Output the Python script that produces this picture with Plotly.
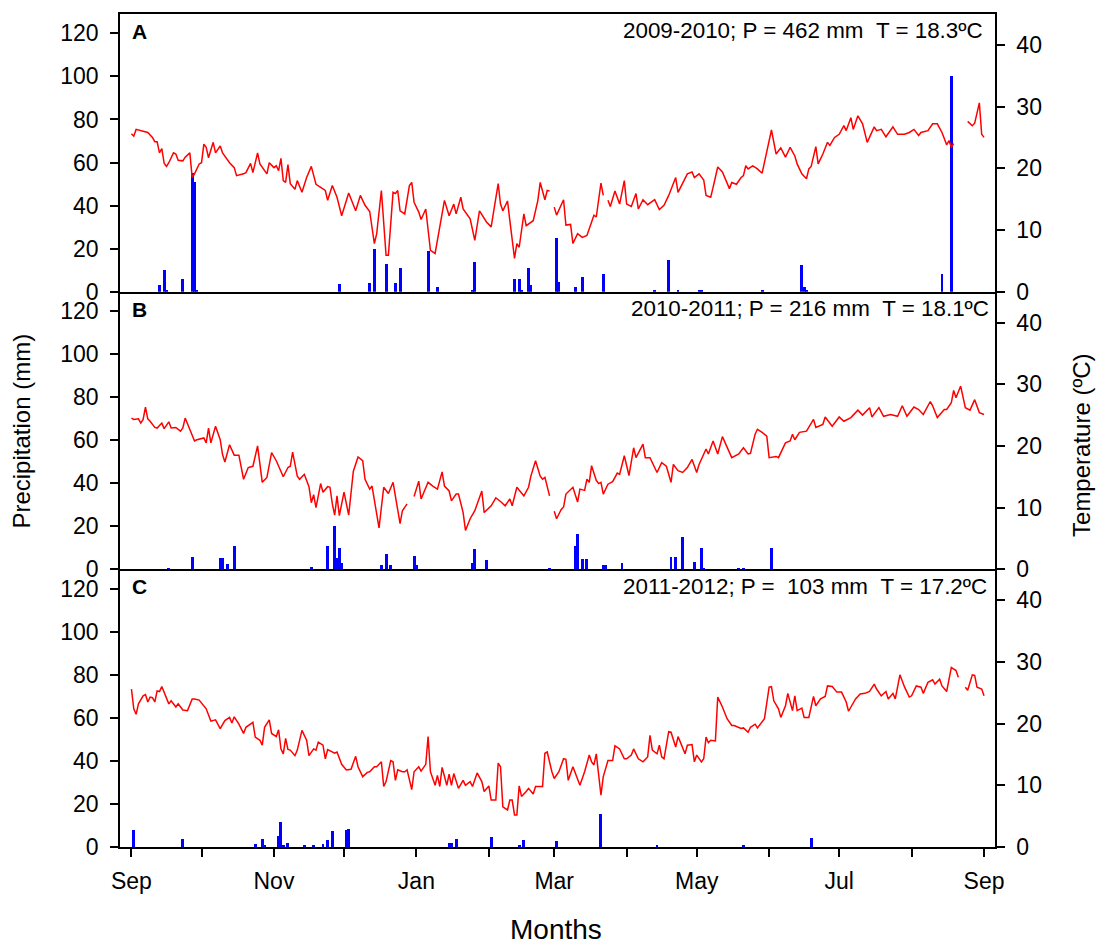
import pandas as pd
import plotly.graph_objects as go
from plotly.subplots import make_subplots

START = pd.Timestamp("2009-09-01")

MONTH_LABELS = ["Sep", "", "Nov", "", "Jan", "", "Mar", "", "May", "", "Jul", "", "Sep"]

PANEL_LETTERS = ["A", "B", "C"]
PANEL_TEXT = [
    "2009-2010; P = 462 mm\u00a0\u00a0T = 18.3ºC",
    "2010-2011; P = 216 mm\u00a0\u00a0T = 18.1ºC",
    "2011-2012; P =\u00a0\u00a0103 mm\u00a0\u00a0T = 17.2ºC",
]

# ---------------- Panel A (2009-2010) ----------------
A_temp_day = [0, 1, 2, 4, 7, 9, 10, 11, 12, 13, 14, 15, 16, 18, 19, 20, 22, 23, 25, 26, 27, 29, 30, 31, 32, 33, 35, 36, 38, 39,
              42, 44, 45, 48, 49, 51, 52, 54, 55, 58, 59, 61, 62, 63, 64, 65, 66, 67, 68, 70, 71, 73, 75, 77, 79, 81, 83, 84, 86, 88,
              90, 93, 96, 98, 100, 102, 104, 105, 107, 109, 110, 112, 113, 114, 115, 117, 119, 120, 121, 123, 124, 126, 128, 130,
              134, 136, 138, 139, 141, 142, 145, 147, 149, 152, 154, 157, 158, 159, 161, 162, 164, 165, 166, 168, 169, 172, 174,
              175, 177, 178, 179, 180, 181, 182, 185, 186, 188, 189, 191, 193, 195, 198, 199, 201, 202, 203, 204, 205, 207, 209,
              211, 212, 214, 216, 217, 219, 221, 224, 226, 228, 230, 233, 234, 236, 238, 240, 241, 243, 245, 246, 248, 249, 251,
              253, 256, 257, 259, 261, 262, 263, 264, 266, 268, 270, 272, 274, 276, 278, 280, 282, 284, 285, 287, 289, 290, 291,
              293, 294, 296, 298, 299, 301, 303, 305, 306, 308, 309, 311, 313, 314, 315, 318, 319, 321, 323, 326, 328, 331, 333,
              335, 337, 338, 341, 343, 345, 347, 349, 350, 351, 352, 355, 358, 360, 361, 363, 364, 365]
A_temp_val = [25.6, 25.2, 26.3, 26.1, 25.8, 25.0, 24.3, 24.3, 22.5, 23.2, 20.8, 20.3, 20.9, 22.5, 22.3, 21.3, 21.2, 21.8, 22.5, 18.5,
              19.1, 20.7, 20.9, 23.9, 23.4, 21.7, 24.2, 22.5, 23.6, 22.5,
              20.9, 20.1, 18.8, 19.1, 19.3, 20.8, 19.3, 22.5, 20.7, 19.1, 20.9, 20.1, 20.4, 19.6, 21.6, 18.0, 17.7, 20.6, 17.5, 16.6,
              18.0, 16.1, 18.5, 20.3, 17.4, 16.9, 16.4, 14.8, 17.2, 15.3,
              12.3, 16.0, 13.1, 15.6, 14.0, 13.0, 7.8, 9.4, 16.4, 5.9, 5.9, 16.1, 15.9, 16.4, 13.1, 12.6, 17.2, 17.7, 14.5, 12.9,
              11.7, 13.4, 6.7, 6.2,
              14.8, 12.3, 14.2, 12.6, 15.3, 13.4, 11.8, 8.3, 13.1, 11.3, 10.5, 17.5, 14.2, 13.1, 14.7, 11.5, 5.4, 7.8, 7.2, 12.6,
              10.7, 11.5, 14.8,
              17.7, 14.9, 16.4, 16.3, None, 13.7, 12.4, 14.9, 10.8, 10.9, 7.8, 9.4, 8.8, 9.1, 12.4, 12.1, 17.6, 15.6, None, 14.8,
              13.8, 16.3, 14.2,
              18.0, 14.2, 13.8, 15.9, 13.4, 14.9, 14.1, 14.9, 13.3, 14.0, 15.6, 18.5, 16.1, 17.7, 19.1, 19.4, 18.5, 19.1, 18.1,
              15.6, 15.3, 16.9, 20.2,
              19.4, 16.7, 17.7, 17.4, 18.5, 18.8, 20.4, 19.9, 20.4, 19.9, 19.2, 22.8, 26.2, 22.3, 23.3, 21.8, 23.4, 22.0, 20.7,
              19.1, 18.3, 19.9, 20.3,
              23.5, 20.7, 22.3, 24.2, 23.7, 25.0, 25.5, 26.9, 26.1, 28.2, 26.3, 28.5, 27.2, 25.5, 24.2, 26.7, 26.1, 26.3, 25.1,
              26.7, 25.5, 25.5, 25.8,
              26.3, 25.3, 25.8, 26.1, 27.2, 27.2, 25.8, 23.8, 24.5, 23.4, 24.0, None, 27.6, 26.9, 27.3, 30.6, 25.5, 25.0]
A_rain_day = [12, 14, 15, 22, 26, 27, 28, 89, 102, 104, 109, 113, 115, 127, 131, 146, 147, 164, 166, 167, 170, 171, 182, 183,
              190, 193, 202, 224, 230, 234, 243, 244, 270, 287, 288, 289, 347, 351]
A_rain_mm = [3, 10, 0.6, 6, 55, 51, 0.5, 3.5, 4, 20, 13, 4, 11, 19, 2, 0.6, 14, 6, 6, 1, 11, 3, 25, 4.5,
             2, 7, 8, 1, 14.5, 1, 1, 1, 0.8, 12.5, 2, 1, 8, 100]

# ---------------- Panel B (2010-2011) ----------------
B_temp_day = [0, 1, 3, 4, 5, 6, 7, 8, 10, 11, 13, 14, 16, 17, 19, 21, 22, 23, 24, 26, 27, 28, 30, 31, 32, 33, 34, 36, 38, 39,
              40, 42, 44, 46, 48, 50, 52, 54, 56, 58, 60, 62, 65, 67, 68, 69, 71, 72, 74, 76, 77, 78, 79, 81, 82, 84, 85, 86, 87,
              88, 89, 91, 93, 95, 97, 99, 100, 102, 103, 106, 108, 110, 112, 114, 115, 116, 118, 119, 121, 123, 124, 127, 129,
              131, 133, 134, 136, 137, 139, 140, 142, 143, 145, 147, 150, 151, 154, 156, 158, 160, 162, 163, 165, 168, 170, 171,
              173, 175, 176, 177, 179, 180, 181, 182, 184, 185, 186, 189, 191, 192, 194, 195, 196, 197, 199, 200, 201, 202, 204,
              206, 208, 209, 211, 213, 215, 216, 219, 220, 222, 225, 227, 229, 231, 232, 234, 236, 238, 240, 242, 243, 246, 247,
              249, 251, 253, 255, 257, 260, 262, 264, 265, 267, 268, 270, 272, 273, 276, 277, 280, 282, 283, 284, 286, 289, 292,
              293, 296, 297, 299, 300, 303, 305, 308, 311, 313, 316, 317, 320, 322, 325, 328, 330, 332, 335, 337, 339, 342, 343,
              345, 348, 349, 351, 352, 353, 355, 357, 359, 361, 363, 365]
B_temp_val = [24.5, 24.3, 24.4, 23.7, 24.3, 26.3, 24.4, 24.0, 23.0, 22.9, 23.7, 22.8, 23.9, 22.9, 23.0, 22.4, 22.9, 24.5, 23.6,
              21.6, 20.8, 21.0, 21.2, 21.3, 20.5, 22.9, 20.5, 23.2, 21.0, 18.6,
              17.4, 20.2, 18.5, 18.5, 14.6, 16.5, 16.7, 20.0, 14.1, 14.9, 18.9, 17.6, 15.0, 16.5, 16.7, 19.0, 15.1, 14.6, 15.4,
              13.4, 10.8, 12.1, 10.0, 13.9, 12.5, 13.4, 13.3, 10.6, 8.8,
              11.9, 8.7, 12.5, 8.8, 15.9, 18.2, 17.6, 14.6, 13.0, 13.5, 6.7, 13.3, 12.3, 14.1, 10.0, 7.4, 9.5, 10.6, None, 11.8,
              14.3, 11.4, 14.1, 13.5,
              13.0, 15.8, 13.5, 12.7, 11.1, 12.2, 12.2, 9.2, 6.3, 8.2, 9.5, 12.7, 9.2, 10.3, 11.6, 11.0, 10.3, 11.4, 10.3, 13.3,
              11.9, 13.3, 15.1,
              17.6, 15.1, 14.6, 14.9, 11.9, None, 9.4, 8.2, 9.7, 10.1, 12.2, 13.3, 10.9, 13.0, 12.8, 14.6, 14.1, 16.8, 14.4, 13.9,
              14.1, 12.2, 13.8,
              14.2, 15.6, 15.4, 18.4, 15.2, 19.7, 18.1, 20.3, 18.1, 18.1, 15.7, 17.3, 16.7, 14.1, 17.0, 16.0, 15.7, 16.5, 17.8,
              15.7, 17.0, 19.5, 18.7,
              20.8, 18.7, 21.5, 19.7, 18.1, 18.7, 19.7, 18.7, 18.8, 21.9, 22.7, 22.2, 21.6, 18.1, 18.3, 18.1, 20.5, 20.8, 21.9,
              21.0, 22.2, 22.4, 24.3,
              23.0, 23.5, 24.7, 23.8, 23.2, 24.7, 24.0, 24.6, 25.8, 25.0, 26.2, 24.7, 26.2, 24.8, 25.1, 24.8, 26.5, 24.8, 26.3,
              25.9, 25.1, 27.2, 26.5,
              24.6, 25.9, 25.9, 27.0, 29.0, 27.8, 29.7, 26.2, 25.8, 27.5, 25.4, 25.1]
B_rain_day = [16, 26, 38, 39, 41, 44, 65, 77, 84, 87, 88, 89, 90, 107, 109, 111, 121, 122, 146, 147, 152, 179, 190, 191, 193,
              195, 202, 203, 210, 231, 233, 236, 241, 244, 245, 260, 262, 274]
B_rain_mm = [0.8, 6, 5.5, 5.5, 2.6, 11, 0.3, 1.1, 11.2, 20.5, 5.4, 10, 3.1, 2, 7.5, 2, 6.5, 2, 3.1, 9.5, 4.5, 0.8, 11, 16.5, 5,
             5, 2, 2.3, 3.1, 5.8, 5.8, 15, 3.5, 10.3, 1, 0.5, 0.5, 10]

# ---------------- Panel C (2011-2012) ----------------
C_temp_day = [0, 1, 2, 3, 5, 6, 7, 8, 9, 10, 11, 12, 13, 14, 16, 17, 19, 20, 22, 24, 26, 27, 29, 32, 34, 36, 38, 40, 42, 43, 44,
              46, 48, 49, 52, 53, 55, 56, 57, 59, 60, 62, 63, 64, 65, 66, 67, 68, 70, 71, 73, 75, 76, 78, 79, 80, 82, 83, 84, 87,
              88, 90, 92, 94, 96, 97, 99, 101, 102, 104, 105, 107, 108, 109, 111, 112, 113, 114, 116, 117, 118, 120, 121, 123,
              124, 126, 127, 128, 130, 131, 132, 133, 135, 136, 137, 138, 140, 142, 143, 145, 146, 148, 150, 151, 153, 154, 156,
              157, 158, 159, 161, 162, 163, 164, 165, 166, 167, 169, 170, 172, 173, 175, 176, 177, 178, 180, 181, 183, 185, 186,
              187, 189, 190, 192, 194, 196, 197, 198, 199, 201, 202, 204, 206, 207, 209, 211, 212, 214, 215, 217, 219, 221, 222,
              223, 225, 226, 227, 228, 230, 231, 233, 234, 235, 237, 238, 240, 241, 242, 244, 245, 246, 247, 248, 250, 251, 253,
              255, 257, 258, 261, 262, 264, 265, 267, 268, 270, 271, 273, 274, 275, 277, 278, 280, 281, 283, 284, 285, 287, 288,
              290, 292, 293, 295, 297, 298, 300, 302, 304, 306, 307, 310, 312, 314, 316, 318, 319, 321, 323, 324, 326, 327, 329,
              331, 333, 334, 336, 338, 339, 341, 343, 344, 346, 347, 349, 350, 351, 353, 354, 355, 357, 358, 360, 361, 362, 364,
              365]
C_temp_val = [25.6, 22.4, 21.5, 23.2, 24.5, 24.7, 23.5, 24.3, 24.2, 23.5, 25.3, 25.2, 26.0, 25.1, 23.2, 23.7, 22.7, 23.2, 22.2,
              22.1, 24.0, 24.0, 23.8, 22.4, 20.4, 20.6, 19.2, 20.5, 21.0, 20.1, 21.1,
              19.9, 18.4, 19.4, 20.2, 17.8, 17.3, 16.5, 19.4, 20.6, 18.4, 17.9, 19.0, 15.9, 15.1, 17.6, 15.8, 15.7, 14.8, 15.7,
              18.9, 17.3, 14.8, 15.9, 15.7, 17.0, 16.5, 14.3, 15.8, 15.2,
              15.4, 13.4, 12.5, 12.6, 14.7, 13.0, 11.4, 12.1, 12.2, 13.0, 13.0, 13.8, 9.8, 10.6, 14.0, 13.8, 10.8, 12.5, 12.2,
              12.2, 12.5, 9.3, 12.2, 13.0,
              12.3, 13.4, 17.9, 12.2, 10.0, 11.6, 9.8, 12.9, 10.0, 11.8, 10.0, 11.9, 9.5, 10.8, 10.0, 10.6, 9.8, 12.0, 10.6, 9.0,
              9.9, 7.6, 7.6,
              13.6, 13.0, 6.5, 6.0, 7.6, 7.6, 5.2, 5.2, 9.9, 8.2, 9.0, 9.5, 8.6, 9.8, 9.8, 9.8, 15.2, 15.4, 12.2, 11.1, 12.2, 14.3,
              14.2,
              10.8, 13.0, 11.9, 10.0, 12.2, 14.9, 13.8, 13.3, 15.1, 8.4, 11.4, 14.0, 14.0, 16.4, 15.9, 14.3, 14.3, 14.9, 15.9,
              14.3, 13.8, 14.6, 18.1,
              15.7, 15.1, 16.5, 14.6, 14.3, 18.7, 18.6, 16.2, 17.9, 17.0, 15.1, 16.5, 16.6, 13.8, 14.9, 13.8, 14.3, 17.8, 16.9,
              17.3, 17.2, 24.3, 22.7,
              20.8, 19.7, 19.7, 19.2, 19.3, 18.6, 19.4, 19.9, 19.3, 20.2, 20.8, 25.9, 26.0, 23.7, 22.4, 21.0, 22.9, 24.9, 22.1,
              24.5, 22.1, 22.5, 21.0,
              21.0, 24.4, 22.9, 24.0, 24.4, 26.1, 26.0, 25.1, 25.1, 23.5, 22.0, 24.0, 24.8, 24.9, 25.2, 26.4, 25.6, 24.5, 25.2,
              24.0, 24.9, 24.0, 27.9,
              25.9, 24.3, 24.5, 26.1, 25.9, 24.9, 26.7, 27.1, 26.4, 27.2, 26.1, 25.2, 27.5, 29.1, 28.6, 27.5, None, 25.9, 25.4,
              27.9, 27.8, 25.9, 25.6,
              24.5]
C_rain_day = [1, 22, 53, 56, 57, 63, 64, 65, 67, 74, 78, 82, 84, 86, 92, 93, 136, 137, 139, 154, 166, 168, 182, 201, 225, 262, 291]
C_rain_mm = [7.7, 3.4, 1.1, 3.7, 1, 4.9, 11.5, 1, 1.5, 1, 1, 1.1, 3.1, 7.2, 7.7, 8, 1.5, 1.5, 3.7, 4.6, 0.6, 3.1, 2.6, 15.2, 0.8,
             0.8, 4.2]

PANELS = [
    (A_rain_day, A_rain_mm, A_temp_day, A_temp_val),
    (B_rain_day, B_rain_mm, B_temp_day, B_temp_val),
    (C_rain_day, C_rain_mm, C_temp_day, C_temp_val),
]


def to_dates(days):
    return [START + pd.Timedelta(days=d) for d in days]


FONT = "Liberation Sans, Arial, Helvetica, sans-serif"
DAY_MS = 86400000

fig = make_subplots(rows=3, cols=1, shared_xaxes=True, vertical_spacing=0,
                    specs=[[{"secondary_y": True}] for _ in range(3)])

for i, (rd, rv, td, tv) in enumerate(PANELS, start=1):
    fig.add_trace(go.Bar(x=to_dates(rd), y=rv, width=1.25 * DAY_MS,
                         marker=dict(color="#0000FF", line=dict(width=0)),
                         showlegend=False),
                  row=i, col=1, secondary_y=False)
    fig.add_trace(go.Scatter(x=to_dates(td), y=tv, mode="lines",
                             line=dict(color="#FF0000", width=1.5),
                             connectgaps=False, showlegend=False),
                  row=i, col=1, secondary_y=True)

month_ticks = list(pd.date_range(START, START + pd.DateOffset(years=1), freq="MS"))
x_range = [START - pd.Timedelta(days=4.9), START + pd.Timedelta(days=369.7)]

axis_line = dict(showline=True, linecolor="black", linewidth=1.5, showgrid=False, zeroline=False)

for i in range(1, 4):
    fig.update_xaxes(type="date", range=x_range, domain=[0, 1], mirror=(i == 1), **axis_line, row=i, col=1)
    fig.update_yaxes(range=[0, 129], tickvals=[0, 20, 40, 60, 80, 100, 120], ticks="outside",
                     ticklen=8, tickwidth=1.5, tickcolor="black", ticklabelstandoff=7,
                     tickfont=dict(family=FONT, size=23, color="black"),
                     **axis_line, row=i, col=1, secondary_y=False)
    fig.update_yaxes(range=[0, 45], tickvals=[0, 10, 20, 30, 40], ticks="outside",
                     ticklen=8, tickwidth=1.5, tickcolor="black", ticklabelstandoff=7,
                     tickfont=dict(family=FONT, size=23, color="black"),
                     **axis_line, row=i, col=1, secondary_y=True)

fig.update_xaxes(ticks="", showticklabels=False, row=1, col=1)
fig.update_xaxes(ticks="", showticklabels=False, row=2, col=1)
fig.update_xaxes(tickvals=month_ticks, ticktext=MONTH_LABELS, ticks="outside", ticklen=8, tickwidth=1.5,
                 tickcolor="black", showticklabels=True, ticklabelstandoff=5,
                 tickfont=dict(family=FONT, size=23, color="black"), row=3, col=1)

annotations = []
xrefs = ["x domain", "x2 domain", "x3 domain"]
yrefs = ["y domain", "y3 domain", "y5 domain"]
text_right = [0.9886, 0.9954, 0.9931]
for k in range(3):
    annotations.append(dict(text="<b>%s</b>" % PANEL_LETTERS[k], xref=xrefs[k], yref=yrefs[k],
                            x=0.011, y=0.937, xanchor="left", yanchor="middle", showarrow=False,
                            font=dict(family=FONT, size=21, color="black")))
    annotations.append(dict(text=PANEL_TEXT[k], xref=xrefs[k], yref=yrefs[k],
                            x=text_right[k], y=0.939, xanchor="right", yanchor="middle", showarrow=False,
                            font=dict(family=FONT, size=22.4, color="black")))

annotations.append(dict(text="Precipitation (mm)", xref="paper", yref="paper", x=-0.1125, y=0.4994,
                        textangle=-90, showarrow=False, xanchor="center", yanchor="middle",
                        font=dict(family=FONT, size=24, color="black")))
annotations.append(dict(text="Temperature (ºC)", xref="paper", yref="paper", x=1.0994, y=0.4826,
                        textangle=-90, showarrow=False, xanchor="center", yanchor="middle",
                        font=dict(family=FONT, size=24, color="black")))
annotations.append(dict(text="Months", xref="paper", yref="paper", x=0.4986, y=-0.099,
                        showarrow=False, xanchor="center", yanchor="middle",
                        font=dict(family=FONT, size=28, color="black")))

fig.update_layout(width=1096, height=945, margin=dict(l=119.5, r=101, t=12.3, b=98.3, pad=0),
                  plot_bgcolor="white", paper_bgcolor="white", bargap=0, barmode="overlay",
                  showlegend=False, annotations=annotations,
                  font=dict(family=FONT, color="black"))

fig.write_html("out.html")
